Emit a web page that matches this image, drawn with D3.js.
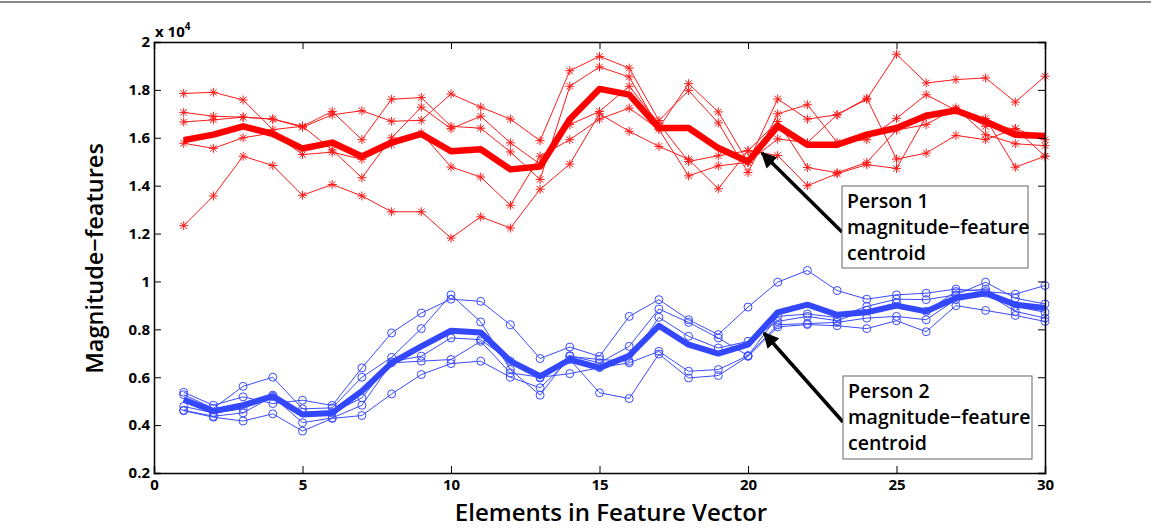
<!DOCTYPE html>
<html>
<head>
<meta charset="utf-8">
<script src="https://cdn.jsdelivr.net/npm/d3@7"></script>
<style>
  body { margin: 0; background: #fff; }
  text { font-family: "Open Sans", "DejaVu Sans", sans-serif; }
</style>
</head>
<body>
<div id="chart"></div>
<script>
// Feature vector elements 1..30
var elements = d3.range(1, 31);

// Person 1 samples (x 10^4)
var person1Samples = [
  [1.785, 1.790, 1.758, 1.634, 1.648, 1.710, 1.592, 1.761, 1.768, 1.648, 1.640, 1.541, 1.426, 1.815, 1.896, 1.854, 1.641, 1.826, 1.708, 1.497, 1.762, 1.678, 1.696, 1.761, 1.949, 1.829, 1.843, 1.850, 1.749, 1.857],
  [1.706, 1.690, 1.686, 1.678, 1.644, 1.696, 1.713, 1.669, 1.673, 1.783, 1.728, 1.678, 1.588, 1.880, 1.940, 1.891, 1.672, 1.797, 1.662, 1.455, 1.700, 1.738, 1.581, 1.592, 1.681, 1.780, 1.715, 1.648, 1.638, 1.592],
  [1.666, 1.675, 1.686, 1.678, 1.648, 1.549, 1.433, 1.600, 1.728, 1.638, 1.690, 1.579, 1.490, 1.655, 1.710, 1.815, 1.660, 1.501, 1.525, 1.546, 1.668, 1.476, 1.454, 1.497, 1.632, 1.655, 1.725, 1.613, 1.575, 1.567],
  [1.577, 1.556, 1.600, 1.620, 1.530, 1.540, 1.510, 1.572, 1.620, 1.478, 1.436, 1.318, 1.523, 1.592, 1.678, 1.724, 1.635, 1.441, 1.483, 1.497, 1.595, 1.580, 1.696, 1.765, 1.511, 1.536, 1.610, 1.592, 1.638, 1.523],
  [1.233, 1.357, 1.523, 1.484, 1.360, 1.405, 1.357, 1.291, 1.291, 1.181, 1.270, 1.223, 1.385, 1.490, 1.700, 1.627, 1.564, 1.510, 1.387, 1.546, 1.526, 1.400, 1.450, 1.488, 1.472, 1.690, 1.718, 1.680, 1.477, 1.523]
];
var person1Centroid = [1.590, 1.613, 1.648, 1.616, 1.555, 1.580, 1.522, 1.580, 1.616, 1.544, 1.552, 1.468, 1.480, 1.677, 1.804, 1.780, 1.641, 1.641, 1.557, 1.501, 1.649, 1.571, 1.571, 1.613, 1.641, 1.692, 1.714, 1.668, 1.613, 1.607];

// Person 2 samples (x 10^4)
var person2Samples = [
  [0.537, 0.483, 0.518, 0.490, 0.504, 0.482, 0.639, 0.785, 0.868, 0.926, 0.917, 0.819, 0.678, 0.726, 0.687, 0.854, 0.924, 0.840, 0.778, 0.893, 0.997, 1.046, 0.962, 0.926, 0.944, 0.951, 0.968, 0.958, 0.947, 0.983],
  [0.527, 0.470, 0.562, 0.600, 0.468, 0.472, 0.600, 0.683, 0.803, 0.944, 0.831, 0.632, 0.525, 0.690, 0.660, 0.729, 0.885, 0.829, 0.764, 0.690, 0.854, 0.864, 0.850, 0.896, 0.926, 0.924, 0.944, 0.997, 0.930, 0.906],
  [0.478, 0.451, 0.468, 0.525, 0.454, 0.451, 0.514, 0.665, 0.688, 0.764, 0.757, 0.667, 0.597, 0.687, 0.674, 0.667, 0.850, 0.771, 0.722, 0.750, 0.833, 0.854, 0.836, 0.880, 0.910, 0.875, 0.958, 0.968, 0.896, 0.871],
  [0.462, 0.437, 0.451, 0.520, 0.410, 0.430, 0.483, 0.660, 0.667, 0.674, 0.750, 0.618, 0.600, 0.615, 0.640, 0.660, 0.708, 0.625, 0.632, 0.690, 0.819, 0.824, 0.829, 0.847, 0.854, 0.840, 0.924, 0.951, 0.875, 0.847],
  [0.460, 0.433, 0.417, 0.447, 0.375, 0.428, 0.440, 0.530, 0.611, 0.657, 0.667, 0.600, 0.556, 0.674, 0.535, 0.511, 0.697, 0.597, 0.607, 0.687, 0.810, 0.820, 0.815, 0.803, 0.836, 0.790, 0.899, 0.879, 0.858, 0.833]
];
var person2Centroid = [0.507, 0.458, 0.483, 0.521, 0.444, 0.451, 0.542, 0.660, 0.729, 0.794, 0.787, 0.667, 0.604, 0.674, 0.639, 0.690, 0.815, 0.736, 0.699, 0.736, 0.871, 0.903, 0.861, 0.871, 0.899, 0.875, 0.931, 0.951, 0.903, 0.889];

var xTicks = [0, 5, 10, 15, 20, 25, 30];
var yTicks = [0.2, 0.4, 0.6, 0.8, 1, 1.2, 1.4, 1.6, 1.8, 2];

var width = 1151, height = 531;
var margin = {top: 42, right: 106, bottom: 58, left: 154};

var svg = d3.select("#chart").append("svg")
  .attr("width", width)
  .attr("height", height);

// figure frame line at top
svg.append("line")
  .attr("x1", 0).attr("x2", width)
  .attr("y1", 2).attr("y2", 2)
  .attr("stroke", "#8c8c8c")
  .attr("stroke-width", 2);

var x = d3.scaleLinear().domain([0, 30]).range([margin.left, width - margin.right]);
var y = d3.scaleLinear().domain([0.2, 2]).range([height - margin.bottom, margin.top]);

var red = "#ff1a1a";
var blue = "#3a4bff";

var line = d3.line()
  .x((d, i) => x(elements[i]))
  .y(d => y(d));

var plot = svg.append("g");

// person 1 thin lines with * markers
person1Samples.forEach(function(s) {
  plot.append("path")
    .attr("d", line(s))
    .attr("fill", "none")
    .attr("stroke", red)
    .attr("stroke-width", 1);
  plot.append("g").selectAll("path")
    .data(s)
    .join("path")
    .attr("transform", (d, i) => `translate(${x(elements[i])},${y(d)})`)
    .attr("d", "M-4.5,0H4.5M0,-4.5V4.5M-3.2,-3.2L3.2,3.2M-3.2,3.2L3.2,-3.2")
    .attr("stroke", red)
    .attr("stroke-width", 1);
});

// person 2 thin lines with o markers
person2Samples.forEach(function(s) {
  plot.append("path")
    .attr("d", line(s))
    .attr("fill", "none")
    .attr("stroke", blue)
    .attr("stroke-width", 1);
  plot.append("g").selectAll("circle")
    .data(s)
    .join("circle")
    .attr("cx", (d, i) => x(elements[i]))
    .attr("cy", d => y(d))
    .attr("r", 4)
    .attr("fill", "none")
    .attr("stroke", blue)
    .attr("stroke-width", 1);
});

// centroids
plot.append("path")
  .attr("d", line(person1Centroid))
  .attr("fill", "none")
  .attr("stroke", "#ff0000")
  .attr("stroke-width", 6.5)
  .attr("stroke-linejoin", "round");

plot.append("path")
  .attr("d", line(person2Centroid))
  .attr("fill", "none")
  .attr("stroke", "#3347ff")
  .attr("stroke-width", 6)
  .attr("stroke-linejoin", "round");

// axes with inward ticks on all sides
var tickLen = 7;
var axisFont = "700 15px 'Open Sans', sans-serif";

var xAxis = svg.append("g")
  .attr("transform", `translate(0,${height - margin.bottom})`)
  .call(d3.axisBottom(x).tickValues(xTicks).tickSize(-tickLen).tickPadding(6).tickFormat(d3.format("d")));
var yAxis = svg.append("g")
  .attr("transform", `translate(${margin.left},0)`)
  .call(d3.axisLeft(y).tickValues(yTicks).tickSize(-tickLen).tickPadding(4).tickFormat(d => +d.toFixed(1)));
var xTop = svg.append("g")
  .attr("transform", `translate(0,${margin.top})`)
  .call(d3.axisTop(x).tickValues(xTicks).tickSize(-tickLen).tickFormat(""));
var yRight = svg.append("g")
  .attr("transform", `translate(${width - margin.right},0)`)
  .call(d3.axisRight(y).tickValues(yTicks).tickSize(-tickLen).tickFormat(""));

[xAxis, yAxis, xTop, yRight].forEach(function(a) {
  a.selectAll(".domain").attr("stroke", "#000").attr("stroke-width", 1.5);
  a.selectAll(".tick line").attr("stroke", "#000");
  a.selectAll("text")
    .attr("fill", "#000")
    .style("font", axisFont);
});

// exponent label
var expo = svg.append("text")
  .attr("x", margin.left + 1)
  .attr("y", margin.top - 5)
  .attr("font-size", 15)
  .attr("font-weight", 700);
expo.append("tspan").text("x 10");
expo.append("tspan").attr("dy", -7).attr("font-size", 10).text("4");

// axis titles
svg.append("text")
  .attr("x", 611)
  .attr("y", height - 10)
  .attr("text-anchor", "middle")
  .attr("font-size", 24)
  .attr("font-weight", 600)
  .text("Elements in Feature Vector");

svg.append("text")
  .attr("transform", `translate(103,${(y(0.2) + y(2)) / 2 + 1}) rotate(-90)`)
  .attr("text-anchor", "middle")
  .attr("font-size", 23.5)
  .attr("font-weight", 600)
  .text("Magnitude\u2212features");

// annotation boxes with arrows
var notes = [
  {lines: ["Person 1", "magnitude\u2212feature", "centroid"], box: [842, 186, 186, 82], tail: [842, 232], head: [762, 153]},
  {lines: ["Person 2", "magnitude\u2212feature", "centroid"], box: [843, 376, 189, 83], tail: [843, 422], head: [764, 333]}
];

var defs = svg.append("defs");
defs.append("marker")
  .attr("id", "arrow")
  .attr("viewBox", "0 0 10 10")
  .attr("refX", 9).attr("refY", 5)
  .attr("markerWidth", 4.5).attr("markerHeight", 4.5)
  .attr("orient", "auto")
  .append("path")
  .attr("d", "M0,0L10,5L0,10z")
  .attr("fill", "#000");

notes.forEach(function(n) {
  svg.append("line")
    .attr("x1", n.tail[0]).attr("y1", n.tail[1])
    .attr("x2", n.head[0]).attr("y2", n.head[1])
    .attr("stroke", "#000")
    .attr("stroke-width", 3.5)
    .attr("marker-end", "url(#arrow)");
  svg.append("rect")
    .attr("x", n.box[0]).attr("y", n.box[1])
    .attr("width", n.box[2]).attr("height", n.box[3])
    .attr("fill", "#fff")
    .attr("stroke", "#666")
    .attr("stroke-width", 1);
  var t = svg.append("text")
    .attr("font-size", 19.5)
    .attr("font-weight", 600);
  n.lines.forEach(function(s, i) {
    t.append("tspan")
      .attr("x", n.box[0] + 5)
      .attr("y", n.box[1] + 22 + i * 26)
      .text(s);
  });
});
</script>
</body>
</html>
